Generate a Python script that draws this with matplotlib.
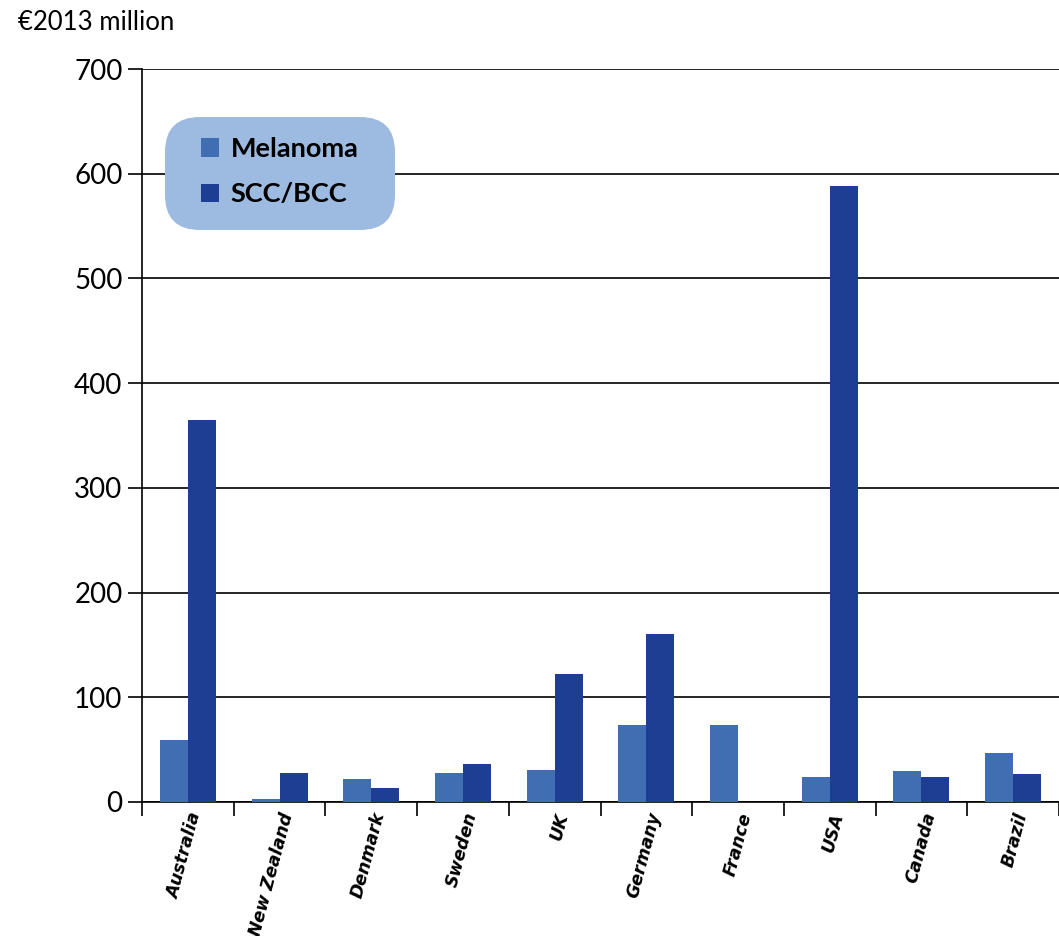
import numpy as np
import matplotlib.pyplot as plt
from matplotlib.patches import FancyBboxPatch

countries = ["Australia", "New Zealand", "Denmark", "Sweden", "UK",
             "Germany", "France", "USA", "Canada", "Brazil"]
melanoma = [59, 3, 22, 28, 31, 74, 74, 24, 30, 47]
scc_bcc = [365, 28, 13, 36, 122, 160, 0, 588, 24, 27]

plt.rcParams['font.family'] = ['Lato', 'DejaVu Sans']

fig = plt.figure(figsize=(10.59, 9.36), dpi=100)
ax = fig.add_axes([142 / 1059, 1 - 802 / 936, 917 / 1059, 733 / 936])

x = np.arange(len(countries))
w = 0.305
ax.bar(x - w / 2, melanoma, w, color="#416db3", label="Melanoma", zorder=3)
ax.bar(x + w / 2, scc_bcc, w, color="#1d3e92", label="SCC/BCC", zorder=3)

ax.set_xlim(-0.5, len(countries) - 0.5)
ax.set_ylim(0, 700)
ax.set_yticks(range(0, 701, 100))
ax.tick_params(axis='y', labelsize=20, direction='out', length=10, width=1.2, pad=4)
ax.yaxis.grid(True, color='black', linewidth=1.2, zorder=0)

# category separators on the x axis
ax.set_xticks(np.arange(-0.5, len(countries), 1.0))
ax.set_xticklabels([])
ax.tick_params(axis='x', which='major', direction='out', length=10, width=1.2)
ax.set_xticks(x, minor=True)
ax.set_xticklabels(countries, minor=True, rotation=75, ha='right',
                   rotation_mode='anchor', fontsize=12.5, fontweight='bold',
                   fontstyle='oblique', family='DejaVu Sans')
ax.tick_params(axis='x', which='minor', length=0, pad=6)

for s in ['top', 'right']:
    ax.spines[s].set_visible(False)
for s in ['left', 'bottom']:
    ax.spines[s].set_linewidth(1.2)

# rounded legend background (in inches so the corners stay circular)
box = FancyBboxPatch((1.65 + 0.35, 7.06 + 0.35), 2.30 - 0.7, 1.13 - 0.7,
                     boxstyle='round,pad=0.35', transform=fig.dpi_scale_trans,
                     facecolor="#9dbae0", edgecolor='none', zorder=4,
                     clip_on=False)
ax.add_patch(box)

leg = ax.legend(loc='upper left', bbox_to_anchor=(201 / 1059, 1 - 137 / 936),
                bbox_transform=fig.transFigure,
                prop={'weight': 'bold', 'size': 19.5}, frameon=False,
                handlelength=0.65, handleheight=0.65, handletextpad=0.45,
                borderpad=0, labelspacing=0.78, borderaxespad=0)
leg.set_zorder(5)

fig.text(18 / 1059, 1 - 22 / 936, "€2013 million", fontsize=18.5, va='center', ha='left')

fig.savefig("out.png", dpi=100)
